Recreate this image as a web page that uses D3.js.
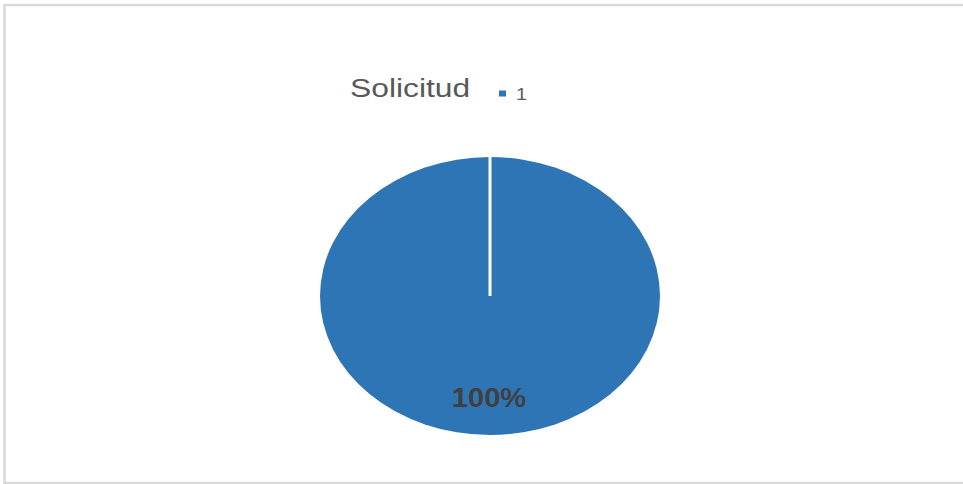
<!DOCTYPE html>
<html>
<head>
<meta charset="utf-8">
<script src="https://cdn.jsdelivr.net/npm/d3@7"></script>
<style>
  body { margin: 0; background: #fff; }
  text { font-family: "Liberation Sans", Arial, sans-serif; }
</style>
</head>
<body>
<div id="chart"></div>
<script>
// chart data
var categories = ["1"];
var values = [1];
var seriesName = "Solicitud";

// set the dimensions
var width = 963, height = 484;
var cx = 490, cy = 296;
var radius = 139;
var stretch = 1.223; // the picture is a bit wider than tall

var svg = d3.select("#chart").append("svg")
    .attr("width", width)
    .attr("height", height);

// chart frame (right side runs off the picture)
svg.append("rect")
    .attr("x", 4.5)
    .attr("y", 5)
    .attr("width", 980)
    .attr("height", 478)
    .style("fill", "none")
    .style("stroke", "#d9d9d9")
    .style("stroke-width", 2.5);

var color = d3.scaleOrdinal().domain(categories).range(["#2e75b6"]);

var pie = d3.pie().sort(null).value(function(d) { return d; });
var arcs = pie(values);
var total = d3.sum(values);

var arc = d3.arc().innerRadius(0).outerRadius(radius);

var g = svg.append("g")
    .attr("transform", "translate(" + cx + "," + cy + ") scale(" + stretch + ",1)");

// slices
g.selectAll("path.slice")
    .data(arcs)
    .enter().append("path")
    .attr("class", "slice")
    .attr("d", arc)
    .style("fill", function(d, i) { return color(categories[i]); });

// white slice borders from the centre
g.selectAll("line.sep")
    .data(arcs)
    .enter().append("line")
    .attr("class", "sep")
    .attr("x1", 0)
    .attr("y1", 0)
    .attr("x2", function(d) { return d3.pointRadial(d.startAngle, radius + 1)[0]; })
    .attr("y2", function(d) { return d3.pointRadial(d.startAngle, radius + 1)[1]; })
    .style("stroke", "#fff")
    .style("stroke-width", 3)
    .attr("vector-effect", "non-scaling-stroke");

// percent labels
var fmt = d3.format(".0%");
svg.selectAll("text.pct")
    .data(arcs)
    .enter().append("text")
    .attr("class", "pct")
    .attr("transform", function(d) {
        // single full slice: label sits low in the pie
        var p = (d.endAngle - d.startAngle) >= 2 * Math.PI - 1e-6
            ? [0, 111]
            : d3.pointRadial((d.startAngle + d.endAngle) / 2, radius * 0.7);
        return "translate(" + (cx + p[0] * stretch - 1) + "," + (cy + p[1]) + ") scale(" + stretch * 0.88 + ",1)";
    })
    .attr("text-anchor", "middle")
    .style("font-size", "27px")
    .style("font-weight", "bold")
    .style("fill", "#404040")
    .text(function(d) { return fmt(d.value / total); });

// legend
var legend = svg.append("g");
legend.append("text")
    .attr("transform", "translate(350,97) scale(" + stretch + ",1)")
    .style("font-size", "26px")
    .style("fill", "#595959")
    .text(seriesName);

var items = legend.selectAll("g.item")
    .data(categories)
    .enter().append("g")
    .attr("class", "item")
    .attr("transform", function(d, i) { return "translate(" + (499 + i * 40) + ",0)"; });

items.append("rect")
    .attr("x", 0)
    .attr("y", 90.5)
    .attr("width", 7)
    .attr("height", 6)
    .style("fill", function(d) { return color(d); });

items.append("text")
    .attr("transform", "translate(17,99.5) scale(" + stretch + ",1)")
    .style("font-size", "16px")
    .style("fill", "#595959")
    .text(function(d) { return d; });
</script>
</body>
</html>
